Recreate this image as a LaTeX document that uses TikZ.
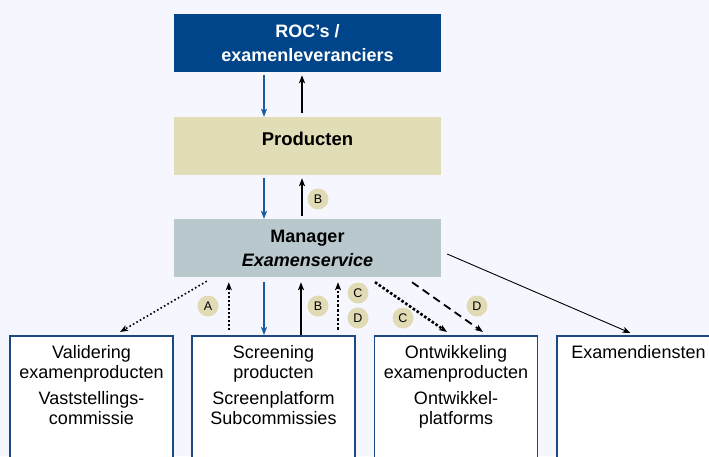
\documentclass[tikz,border=0pt]{standalone}
\usepackage{fontspec}
\setmainfont{Liberation Sans}
\usetikzlibrary{arrows.meta,calc}
\definecolor{bgc}{HTML}{F6F7FE}
\definecolor{rocblue}{HTML}{00458A}
\definecolor{prodc}{HTML}{E1DDB7}
\definecolor{manc}{HTML}{B9C8CD}
\definecolor{lblc}{HTML}{E0DBB5}
\definecolor{borderc}{HTML}{1C4A80}
\definecolor{arrblue}{HTML}{1A5AA0}
\tikzset{
  topbox/.style={rectangle, minimum width=267pt, minimum height=58pt, inner sep=0pt, align=center, font=\fontsize{18}{24}\selectfont\bfseries},
  toptext/.style={inner sep=0pt, font=\fontsize{18.5}{24}\selectfont\bfseries},
  lowbox/.style={rectangle, draw=borderc, line width=1.5pt, fill=white, minimum width=163pt, minimum height=150pt, inner sep=0pt, anchor=north},
  boxtext/.style={anchor=north, inner sep=0pt, align=center, font=\fontsize{18}{20}\selectfont},
  lbl/.style={circle, fill=lblc, minimum size=21pt, inner sep=0pt, font=\fontsize{12.5}{12.5}\selectfont},
  tip/.style={-{Stealth[length=8pt,width=6pt,inset=2pt]}},
  bluearr/.style={tip, draw=arrblue, line width=1.5pt},
  blackarr/.style={tip, draw=black, line width=1.5pt},
  dotarr/.style={tip, draw=black, line width=1.6pt, dash pattern=on 1.6pt off 2.4pt},
  thickdot/.style={tip, draw=black, line width=2.6pt, dash pattern=on 2.6pt off 2pt},
  dasharr/.style={tip, draw=black, line width=1.8pt, dash pattern=on 8pt off 5pt},
  thinarr/.style={tip, draw=black, line width=0.9pt}
}
\begin{document}
\begin{tikzpicture}[x=1pt,y=-1pt]
\clip (0,0) rectangle (709,456);
\fill[bgc] (0,0) rectangle (709,456);
% top boxes
\node[topbox, fill=rocblue, text=white] (roc) at (307.5,43) {ROC’s /\\examenleveranciers};
\node[topbox, fill=prodc] (prod) at (307.5,146) {};
\node[toptext] (prodt) at ($(prod.center)+(0,-7)$) {Producten};
\node[topbox, fill=manc] (man) at (307.5,248) {Manager\\\itshape Examenservice};
% bottom boxes
\node[lowbox] (val) at (91.5,335) {};
\node[lowbox] (scr) at (273.5,335) {};
\node[lowbox] (ont) at (456,335) {};
\node[lowbox] (exd) at (638.5,335) {};
\node[boxtext] (valt) at ($(val.north)+(0,10)$) {Validering\\examenproducten\\[6pt]Vaststellings-\\commissie};
\node[boxtext] (scrt) at ($(scr.north)+(0,10)$) {Screening\\producten\\[6pt]Screenplatform\\Subcommissies};
\node[boxtext] (ontt) at ($(ont.north)+(0,10)$) {Ontwikkeling\\examenproducten\\[6pt]Ontwikkel-\\platforms};
\node[boxtext] (exdt) at ($(exd.north)+(0,10)$) {Examendiensten};
% coordinates on box edges
\coordinate (r1) at ($(roc.south)+(-43.5,3)$);
\coordinate (r2) at ($(roc.south)+(-5.5,3)$);
\coordinate (p1) at ($(prod.south)+(-43.5,3)$);
\coordinate (p2) at ($(prod.south)+(-5.5,3)$);
\coordinate (mA) at ($(man.south west)+(33,4)$);
\coordinate (mAu) at ($(man.south west)+(55,5)$);
\coordinate (mBl) at ($(man.south)+(-43.5,5)$);
\coordinate (mB) at ($(man.south)+(-6.5,5)$);
\coordinate (mC) at ($(man.south)+(30.5,5)$);
\coordinate (mCd) at ($(man.south)+(67.5,5)$);
\coordinate (mD) at ($(man.south)+(104.5,5)$);
\coordinate (mE) at ($(man.east)+(6,6)$);
% arrows between top boxes
\draw[bluearr] (r1) -- (r1 |- prod.north);
\draw[blackarr] ($(r2 |- prod.north)+(0,-4)$) -- (r2);
\draw[bluearr] (p1) -- (p1 |- man.north);
\draw[blackarr] ($(p2 |- man.north)+(0,-3)$) -- (p2);
\node[lbl] (lb0) at (318,199) {B};
% arrows below manager
\draw[dotarr] (mA) -- ($(val.north)+(28.5,-3)$);
\draw[dotarr] ($(mAu |- scr.north)+(0,-5)$) -- (mAu);
\draw[bluearr] (mBl) -- (mBl |- scr.north);
\draw[blackarr] (mB |- scr.north) -- (mB);
\draw[thickdot] ($(mC |- scr.north)+(0,-5)$) -- (mC);
\draw[thickdot] (mCd) -- ($(ont.north)+(-9,-3)$);
\draw[dasharr] (mD) -- ($(ont.north)+(27,-3)$);
\draw[thinarr] (mE) -- ($(exd.north)+(-8,-2)$);
% circle labels
\node[lbl] (la) at (208,306) {A};
\node[lbl] (lb) at (318,306) {B};
\node[lbl] (lc1) at (358,293) {C};
\node[lbl] (ld1) at (358,318) {D};
\node[lbl] (lc2) at (403,318) {C};
\node[lbl] (ld2) at (477,306) {D};
\end{tikzpicture}
\end{document}
